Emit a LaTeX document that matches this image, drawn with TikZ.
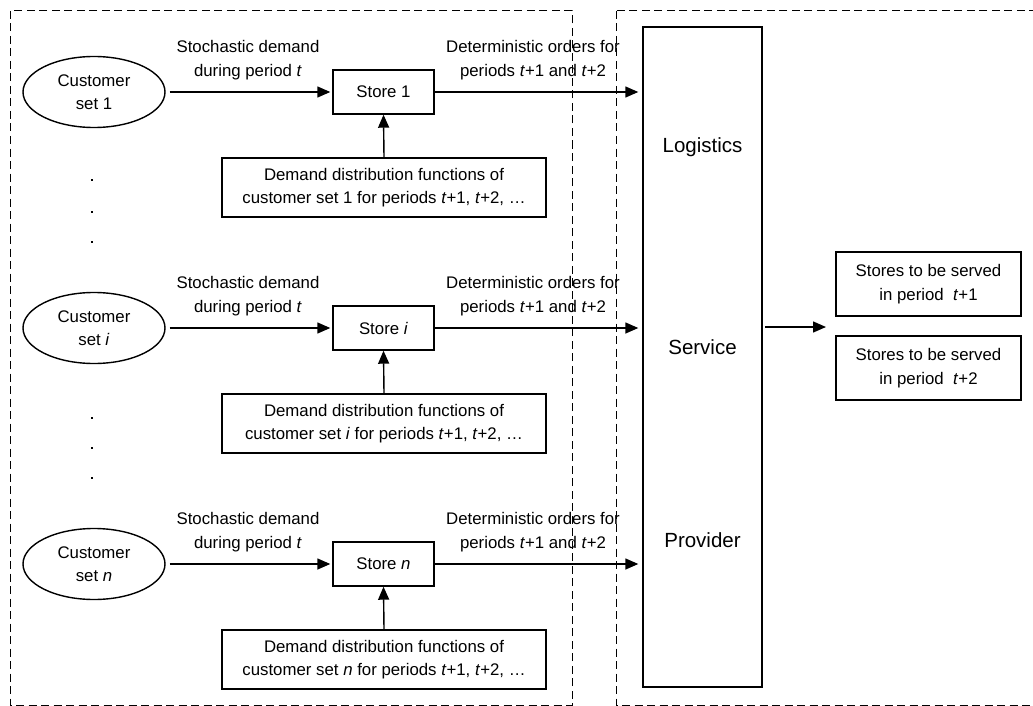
\documentclass[tikz,border=0pt]{standalone}
\usepackage{fontspec}
\setmainfont{Liberation Sans}
\usetikzlibrary{arrows.meta,shapes.geometric}
\begin{document}
\begin{tikzpicture}[x=1pt,y=-1pt,
  every node/.style={font=\fontsize{16.8}{23.5}\selectfont, inner sep=0pt},
  box/.style={draw, line width=1.4pt, align=center},
  cust/.style={draw, ellipse, line width=1.4pt, minimum width=142pt, minimum height=71pt, align=center},
  lbl/.style={align=center},
  big/.style={font=\fontsize{20.5}{24}\selectfont},
  arr/.style={line width=1.4pt, -{Triangle[length=13pt,width=11pt]}},
  dashbox/.style={line width=1.0pt, dash pattern=on 8pt off 4.5pt},
  dotmark/.style={fill=black, draw=none, minimum width=2.8pt, minimum height=2.8pt}
]
\useasboundingbox (0,0) rectangle (1033,706);
\clip (0,0) rectangle (1033,706);
\fill[white] (0,0) rectangle (1033,706);

% dashed group boxes
\draw[dashbox] (10,11) rectangle (572,705);
\draw[dashbox] (616,11) rectangle (1045,705);

% provider box
\node[box, minimum width=119pt, minimum height=660pt] (prov) at (702.5,357) {};
\node[big] (plog) at (702.5,147) {Logistics};
\node[big] (pser) at (702.5,347) {Service};
\node[big] (ppro) at (702.5,540) {Provider};

% rows
\foreach \r/\y/\s in {1/92/1, i/328/\textit{i}, n/564/\textit{n}}{
  \node[cust] (c\r) at (94,\y) {Customer\\set \s};
  \node[box, minimum width=101pt, minimum height=44pt] (s\r) at (383.5,\y) {Store \s};
  \node[box, minimum width=324pt, minimum height=59pt] (d\r) at (384,\y+95.5)
     {Demand distribution functions of\\customer set \s\ for periods \textit{t}+1, \textit{t}+2, \dots};
  \node[lbl] (sl\r) at (248,\y-32) {Stochastic demand\\during period \textit{t}};
  \node[lbl] (dl\r) at (533,\y-32) {Deterministic orders for\\periods \textit{t}+1 and \textit{t}+2};
  \draw[arr, shorten <=4pt, shorten >=2pt] (c\r.east |- 0,\y) -- (s\r.west);
  \draw[arr] (d\r.north) -- (s\r.south);
  \draw[arr, shorten >=4pt] (s\r.east) -- (prov.west |- 0,\y);
}

% dots
\foreach \y in {120,150}{
  \node[dotmark] (da\y) at (92,92+\y) {};
  \node[dotmark] (db\y) at (92,328+\y) {};
}
\node[dotmark, minimum width=2pt, minimum height=1.2pt] (da90) at (92,180) {};
\node[dotmark, minimum width=2pt, minimum height=1.2pt] (db90) at (92,418) {};

% output stores
\node[box, minimum width=185pt, minimum height=64pt] (o1) at (928.5,284) {Stores to be served\\in period~ \textit{t}+1};
\node[box, minimum width=185pt, minimum height=64pt] (o2) at (928.5,368) {Stores to be served\\in period~ \textit{t}+2};
\coordinate (outs) at (765,327);
\coordinate (oute) at (826,327);
\draw[arr] (outs) -- (oute);
\end{tikzpicture}
\end{document}
